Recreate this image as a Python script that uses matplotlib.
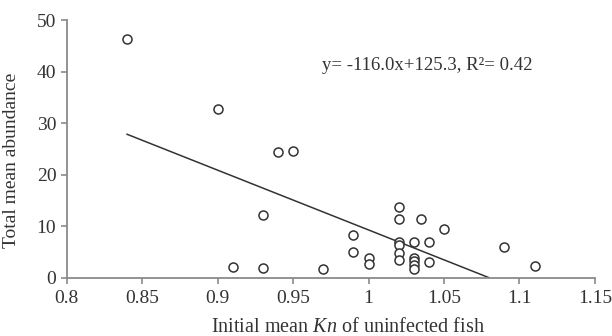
import matplotlib
matplotlib.use("Agg")
import matplotlib.pyplot as plt
import numpy as np

# data
kn = [0.84, 0.90, 0.91, 0.93, 0.93, 0.94, 0.95, 0.97,
      0.99, 0.99, 1.00, 1.00,
      1.02, 1.02, 1.02, 1.02, 1.02, 1.02,
      1.03, 1.03, 1.03, 1.03, 1.03,
      1.035, 1.04, 1.04, 1.05, 1.09, 1.11]
abundance = [46.3, 32.7, 2.1, 12.2, 1.9, 24.5, 24.7, 1.8,
             8.3, 5.0, 3.9, 2.7,
             13.7, 11.4, 7.0, 6.4, 4.8, 3.5,
             7.0, 3.8, 3.2, 2.5, 1.8,
             11.4, 7.0, 3.0, 9.4, 5.9, 2.3]
slope = -116.0
intercept = 125.3
fit_x = [0.84, 1.08]
x_ticks = [0.8, 0.85, 0.9, 0.95, 1.0, 1.05, 1.1, 1.15]
x_ticklabels = ["0.8", "0.85", "0.9", "0.95", "1", "1.05", "1.1", "1.15"]
y_ticks = [0, 10, 20, 30, 40, 50]

plt.rcParams["font.family"] = ["Liberation Serif", "DejaVu Serif"]
plt.rcParams["mathtext.fontset"] = "custom"
plt.rcParams["mathtext.rm"] = "Liberation Serif"
plt.rcParams["mathtext.it"] = "Liberation Serif:italic"
txt_color = "#333333"
spine_color = "#8a8a8a"
fs = 14

fig = plt.figure(figsize=(6.12, 3.36), dpi=100)
ax = fig.add_axes([0.109, 0.173, 0.863, 0.767])

fx = np.array(fit_x)
ax.plot(fx, slope * fx + intercept, color="#333333", linewidth=1.1)
ax.plot(kn, abundance, linestyle="none", marker="o", markersize=6.5,
        markerfacecolor="white", markeredgecolor="#333333", markeredgewidth=1.1)

ax.set_xlim(0.8, 1.15)
ax.set_ylim(0, 50)
ax.set_xticks(x_ticks)
ax.set_xticklabels(x_ticklabels)
ax.set_yticks(y_ticks)

for side in ["top", "right"]:
    ax.spines[side].set_visible(False)
for side in ["left", "bottom"]:
    ax.spines[side].set_color(spine_color)
    ax.spines[side].set_linewidth(1.3)
ax.tick_params(axis="both", colors=spine_color, labelcolor=txt_color,
               labelsize=fs, length=4, width=1.2, direction="out")
ax.tick_params(axis="x", pad=5)

ax.set_xlabel("Initial mean $\\mathit{Kn}$ of uninfected fish", fontsize=14.5,
              color=txt_color)
ax.xaxis.set_label_coords(0.533, -0.155)
ax.set_ylabel("Total mean abundance", fontsize=fs, color=txt_color)
ax.yaxis.set_label_coords(-0.088, 0.457)

ax.text(0.9695, 40.3, "y= -116.0x+125.3, R\u00b2= 0.42", fontsize=13.5, color=txt_color)

fig.savefig("out.png", dpi=100)
